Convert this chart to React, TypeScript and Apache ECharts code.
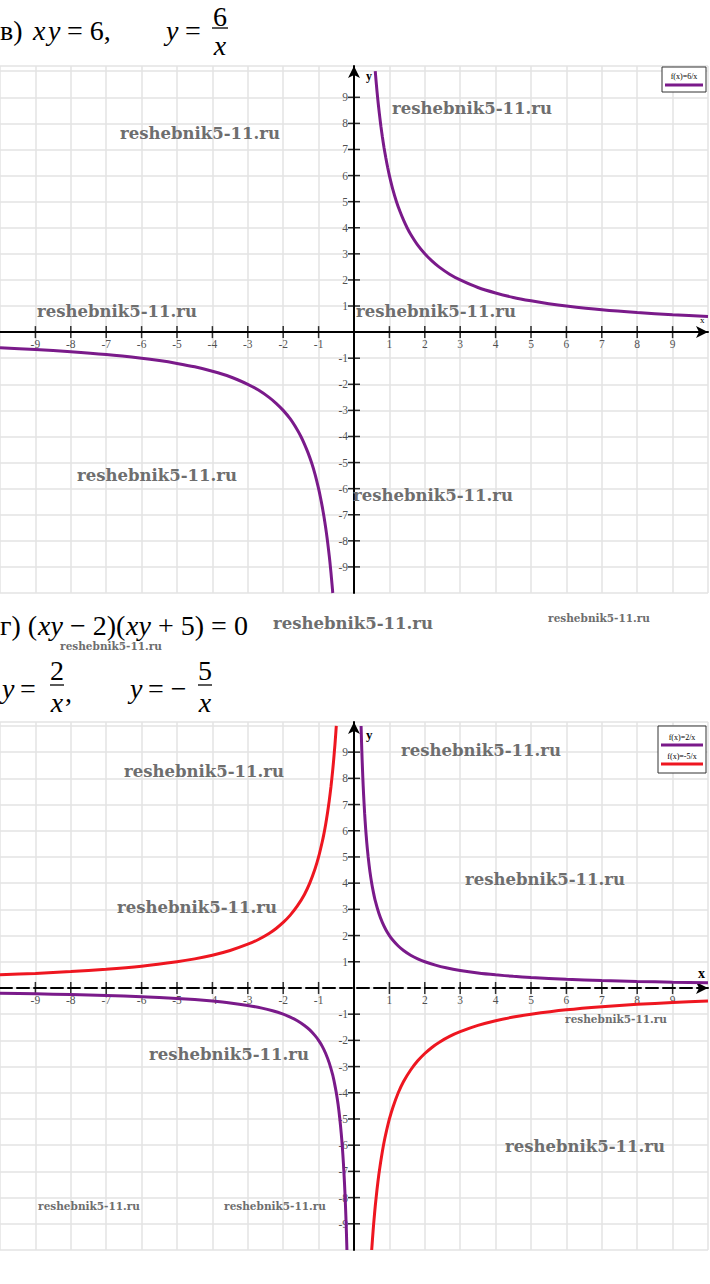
import React, { useEffect, useRef } from "react";
import * as echarts from "echarts";

// ---- tick values ----
const xTickValues = [-9, -8, -7, -6, -5, -4, -3, -2, -1, 1, 2, 3, 4, 5, 6, 7, 8, 9];
const yTickValues = [-9, -8, -7, -6, -5, -4, -3, -2, -1, 1, 2, 3, 4, 5, 6, 7, 8, 9];

// ---- chart в) y = 6/x ----
const f6PosX = [0.6, 0.62, 0.65, 0.68, 0.7, 0.73, 0.76, 0.8, 0.85, 0.9, 0.95, 1, 1.1, 1.2, 1.3, 1.4, 1.5, 1.6, 1.8, 2, 2.2, 2.4, 2.7, 3, 3.5, 4, 4.5, 5, 5.5, 6, 7, 8, 9, 10];
const f6PosY = [10, 9.68, 9.23, 8.82, 8.57, 8.22, 7.89, 7.5, 7.06, 6.67, 6.32, 6, 5.45, 5, 4.62, 4.29, 4, 3.75, 3.33, 3, 2.73, 2.5, 2.22, 2, 1.71, 1.5, 1.33, 1.2, 1.09, 1, 0.857, 0.75, 0.667, 0.6];
const f6NegX = [-10, -9, -8, -7, -6, -5.5, -5, -4.5, -4, -3.5, -3, -2.7, -2.4, -2.2, -2, -1.8, -1.6, -1.5, -1.4, -1.3, -1.2, -1.1, -1, -0.95, -0.9, -0.85, -0.8, -0.76, -0.73, -0.7, -0.68, -0.65, -0.62, -0.6];
const f6NegY = [-0.6, -0.667, -0.75, -0.857, -1, -1.09, -1.2, -1.33, -1.5, -1.71, -2, -2.22, -2.5, -2.73, -3, -3.33, -3.75, -4, -4.29, -4.62, -5, -5.45, -6, -6.32, -6.67, -7.06, -7.5, -7.89, -8.22, -8.57, -8.82, -9.23, -9.68, -10];

// ---- chart г) y = 2/x ----
const f2PosX = [0.2, 0.21, 0.22, 0.23, 0.25, 0.27, 0.3, 0.33, 0.36, 0.4, 0.45, 0.5, 0.55, 0.6, 0.7, 0.8, 0.9, 1, 1.1, 1.25, 1.4, 1.6, 1.8, 2, 2.3, 2.6, 3, 3.5, 4, 4.5, 5, 6, 7, 8, 9, 10];
const f2PosY = [10, 9.52, 9.09, 8.7, 8, 7.41, 6.67, 6.06, 5.56, 5, 4.44, 4, 3.64, 3.33, 2.86, 2.5, 2.22, 2, 1.82, 1.6, 1.43, 1.25, 1.11, 1, 0.87, 0.769, 0.667, 0.571, 0.5, 0.444, 0.4, 0.333, 0.286, 0.25, 0.222, 0.2];
const f2NegX = [-10, -9, -8, -7, -6, -5, -4.5, -4, -3.5, -3, -2.6, -2.3, -2, -1.8, -1.6, -1.4, -1.25, -1.1, -1, -0.9, -0.8, -0.7, -0.6, -0.55, -0.5, -0.45, -0.4, -0.36, -0.33, -0.3, -0.27, -0.25, -0.23, -0.22, -0.21, -0.2];
const f2NegY = [-0.2, -0.222, -0.25, -0.286, -0.333, -0.4, -0.444, -0.5, -0.571, -0.667, -0.769, -0.87, -1, -1.11, -1.25, -1.43, -1.6, -1.82, -2, -2.22, -2.5, -2.86, -3.33, -3.64, -4, -4.44, -5, -5.56, -6.06, -6.67, -7.41, -8, -8.7, -9.09, -9.52, -10];

// ---- chart г) y = -5/x ----
const f5NegX = [-10, -9, -8, -7, -6, -5, -4.5, -4, -3.5, -3, -2.7, -2.4, -2.2, -2, -1.8, -1.6, -1.4, -1.25, -1.1, -1, -0.9, -0.85, -0.8, -0.75, -0.7, -0.65, -0.6, -0.57, -0.54, -0.52, -0.5];
const f5NegY = [0.5, 0.556, 0.625, 0.714, 0.833, 1, 1.11, 1.25, 1.43, 1.67, 1.85, 2.08, 2.27, 2.5, 2.78, 3.13, 3.57, 4, 4.55, 5, 5.56, 5.88, 6.25, 6.67, 7.14, 7.69, 8.33, 8.77, 9.26, 9.62, 10];
const f5PosX = [0.5, 0.52, 0.54, 0.57, 0.6, 0.65, 0.7, 0.75, 0.8, 0.85, 0.9, 1, 1.1, 1.25, 1.4, 1.6, 1.8, 2, 2.2, 2.4, 2.7, 3, 3.5, 4, 4.5, 5, 6, 7, 8, 9, 10];
const f5PosY = [-10, -9.62, -9.26, -8.77, -8.33, -7.69, -7.14, -6.67, -6.25, -5.88, -5.56, -5, -4.55, -4, -3.57, -3.13, -2.78, -2.5, -2.27, -2.08, -1.85, -1.67, -1.43, -1.25, -1.11, -1, -0.833, -0.714, -0.625, -0.556, -0.5];

const legendTop = ["f(x)=6/x"];
const legendBottom = ["f(x)=2/x", "f(x)=-5/x"];

const PURPLE = "#7a1a8a";
const RED = "#ee1620";
const SERIF = "Liberation Serif, Times New Roman, serif";
const WM_FONT = "DejaVu Serif, serif";

const zip = (xs: number[], ys: number[]) => xs.map((x, i) => [x, ys[i]]);

function mkX(gridIndex: number, dashed: boolean) {
  return {
    type: "value",
    gridIndex,
    min: -10,
    max: 10,
    interval: 1,
    axisLine: {
      onZero: true,
      symbol: ["none", "arrow"],
      symbolSize: [9, 12],
      lineStyle: { color: "#000", width: 2, type: dashed ? [12, 5] : "solid" },
    },
    axisTick: { show: false },
    axisLabel: { show: false },
    splitLine: { show: true, lineStyle: { color: "#e3e3e3", width: 1.5 } },
  };
}

function mkY(gridIndex: number, max: number) {
  return {
    type: "value",
    gridIndex,
    min: -10,
    max,
    interval: 1,
    axisLine: {
      onZero: true,
      symbol: ["none", "arrow"],
      symbolSize: [9, 12],
      lineStyle: { color: "#000", width: 2 },
    },
    axisTick: { show: false },
    axisLabel: { show: false },
    splitLine: { show: true, lineStyle: { color: "#e3e3e3", width: 1.5 } },
  };
}

function curve(name: string, data: number[][], color: string, idx: number) {
  return {
    name,
    type: "line",
    xAxisIndex: idx,
    yAxisIndex: idx,
    data,
    showSymbol: false,
    smooth: 0.25,
    lineStyle: { color, width: 3 },
    itemStyle: { color },
    silent: true,
    z: 5,
  };
}

function ticks(idx: number) {
  const lbl = {
    show: true,
    fontSize: 11.5,
    fontFamily: SERIF,
    color: "#222",
    distance: 0,
  };
  return [
    {
      type: "scatter",
      xAxisIndex: idx,
      yAxisIndex: idx,
      data: xTickValues.map((v) => [v, 0]),
      symbol: "rect",
      symbolSize: [1.5, 12],
      itemStyle: { color: "#000" },
      label: { ...lbl, position: "bottom", formatter: (p: any) => String(p.value[0]) },
      silent: true,
      z: 4,
    },
    {
      type: "scatter",
      xAxisIndex: idx,
      yAxisIndex: idx,
      data: yTickValues.map((v) => [0, v]),
      symbol: "rect",
      symbolSize: [12, 1.5],
      itemStyle: { color: "#000" },
      label: { ...lbl, position: "left", formatter: (p: any) => String(p.value[1]) },
      silent: true,
      z: 4,
    },
  ];
}

function txt(text: string, x: number, y: number, opts: any = {}) {
  return {
    type: "text",
    x,
    y,
    z: opts.z ?? 20,
    silent: true,
    style: {
      text,
      fontSize: opts.fontSize ?? 28,
      fontFamily: opts.fontFamily ?? SERIF,
      fontStyle: opts.fontStyle ?? "normal",
      fontWeight: opts.fontWeight ?? "normal",
      fill: opts.fill ?? "#000",
      align: opts.align ?? "left",
      textAlign: opts.align ?? "left",
      verticalAlign: "middle",
      textVerticalAlign: "middle",
    },
  };
}
const it = (text: string, x: number, y: number, opts: any = {}) =>
  txt(text, x, y, { ...opts, fontStyle: "italic" });

function hline(x1: number, x2: number, y: number, color = "#000", w = 1.3) {
  return {
    type: "line",
    z: 20,
    silent: true,
    shape: { x1, y1: y, x2, y2: y },
    style: { stroke: color, lineWidth: w },
  };
}

function wm(cx: number, cy: number, small: boolean) {
  return txt("reshebnik5-11.ru", cx, cy, {
    fontSize: small ? 10.5 : 16.5,
    fontFamily: WM_FONT,
    fontWeight: "bold",
    fill: "#6e6e6e",
    align: "center",
    z: 30,
  });
}

export default function App() {
  const ref = useRef<HTMLDivElement>(null);
  useEffect(() => {
    if (!ref.current) return;
    const chart = echarts.init(ref.current, undefined, { renderer: "svg" });
    const watermarks = [
      [200, 133, 0], [472, 108, 0], [117, 311, 0], [436, 311, 0], [157, 475, 0], [433, 495, 0],
      [353, 623, 0], [599, 618, 1], [111, 646, 1],
      [481, 750, 0], [204, 771, 0], [545, 879, 0], [197, 907, 0], [616, 1019, 1],
      [229, 1054, 0], [585, 1146, 0], [89, 1206, 1], [275, 1206, 1],
    ];
    const option: any = {
      animation: false,
      backgroundColor: "#fff",
      grid: [
        { left: 0, top: 66, width: 708, height: 527 },
        { left: 0, top: 722, width: 708, height: 528 },
      ],
      xAxis: [mkX(0, false), mkX(1, true)],
      yAxis: [mkY(0, 10.2), mkY(1, 10.15)],
      series: [
        curve(legendTop[0], zip(f6PosX, f6PosY), PURPLE, 0),
        curve(legendTop[0], zip(f6NegX, f6NegY), PURPLE, 0),
        ...ticks(0),
        curve(legendBottom[0], zip(f2PosX, f2PosY), PURPLE, 1),
        curve(legendBottom[0], zip(f2NegX, f2NegY), PURPLE, 1),
        curve(legendBottom[1], zip(f5NegX, f5NegY), RED, 1),
        curve(legendBottom[1], zip(f5PosX, f5PosY), RED, 1),
        ...ticks(1),
      ],
      graphic: [
        // heading в)
        txt("в)", 0, 30),
        it("x", 33, 30),
        it("y", 48, 30),
        txt("= 6,", 67, 30),
        it("y", 166, 30),
        txt("=", 185, 30),
        txt("6", 220, 16, { align: "center" }),
        hline(212, 228, 28),
        it("x", 220, 45, { align: "center" }),
        // heading г)
        txt("г) (", 0, 625),
        it("xy", 38, 625),
        txt(" − 2)(", 63, 625),
        it("xy", 126, 625),
        txt(" + 5) = 0", 151, 625),
        it("y", 2, 688),
        txt("=", 20, 688),
        txt("2", 57, 670, { align: "center" }),
        hline(50, 64, 685),
        it("x", 57, 702, { align: "center" }),
        txt(",", 65, 692),
        it("y", 130, 688),
        txt("= −", 148, 688),
        txt("5", 205, 670, { align: "center" }),
        hline(198, 212, 685),
        it("x", 205, 702, { align: "center" }),
        // axis names
        txt("y", 366, 76, { fontSize: 12, fontWeight: "bold" }),
        txt("x", 700, 320, { fontSize: 9 }),
        txt("y", 366, 734, { fontSize: 13, fontWeight: "bold" }),
        txt("x", 698, 973, { fontSize: 14, fontWeight: "bold" }),
        // legend top
        {
          type: "rect",
          z: 25,
          silent: true,
          shape: { x: 662, y: 67, width: 44, height: 25 },
          style: { fill: "#fff", stroke: "#333", lineWidth: 1 },
        },
        txt(legendTop[0], 684, 76, { fontSize: 8, align: "center", z: 26 }),
        { ...hline(665, 703, 85, PURPLE, 3), z: 26 },
        // legend bottom
        {
          type: "rect",
          z: 25,
          silent: true,
          shape: { x: 658, y: 726, width: 48, height: 47 },
          style: { fill: "#fff", stroke: "#333", lineWidth: 1 },
        },
        txt(legendBottom[0], 682, 737, { fontSize: 8, align: "center", z: 26 }),
        { ...hline(661, 703, 745, PURPLE, 3), z: 26 },
        txt(legendBottom[1], 682, 756, { fontSize: 8, align: "center", z: 26 }),
        { ...hline(661, 703, 764, RED, 3), z: 26 },
        // watermarks
        ...watermarks.map((w) => wm(w[0], w[1], w[2] === 1)),
      ],
    };
    chart.setOption(option);
    return () => chart.dispose();
  }, []);
  return (
    <div
      ref={ref}
      style={{ position: "absolute", left: 0, top: 0, width: 710, height: 1284, background: "#fff" }}
    />
  );
}
